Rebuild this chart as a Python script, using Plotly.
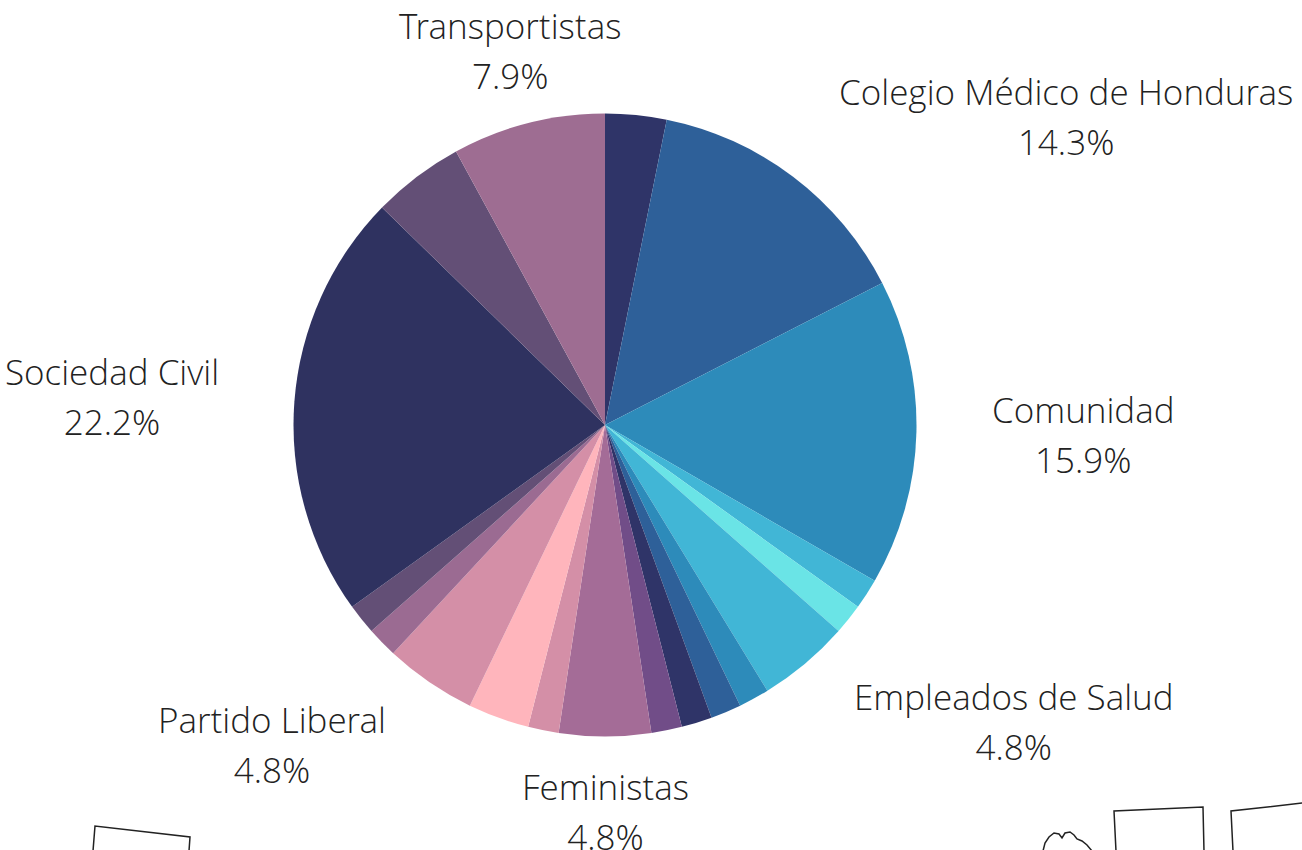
import math
import plotly.graph_objects as go

# ---- data (counts out of 63) ----
categories = [
    "Grupo A", "Colegio Médico de Honduras", "Comunidad", "Grupo B", "Grupo C",
    "Empleados de Salud", "Grupo D", "Grupo E", "Grupo F", "Grupo G",
    "Feministas", "Grupo H", "Grupo I", "Partido Liberal", "Grupo J",
    "Grupo K", "Sociedad Civil", "Grupo L", "Transportistas",
]
values = [2, 9, 10, 1, 1, 3, 1, 1, 1, 1, 3, 1, 2, 3, 1, 1, 14, 3, 5]
show_label = [False, True, True, False, False, True, False, False, False, False,
              True, False, False, True, False, False, True, False, True]
colors = [
    "#2F3468", "#2E6099", "#2D8BBA", "#41B6D6", "#6AE4E6",
    "#41B6D6", "#2D8BBA", "#2E6099", "#2F3468", "#714D88",
    "#A46C97", "#D48FA7", "#FFB5BC", "#D48FA7", "#9B6B92",
    "#634F76", "#2F3260", "#634F76", "#9E6D92",
]

W, H = 1302, 850
cx, cy, r = 605, 425, 311.5      # pie centre / radius in pixels
label_gap = 75                   # distance of labels from pie edge
glyph_size = 35                  # label font size
line_gap = 50                    # spacing between the two label lines
FONT = dict(family="Open Sans Light, Open Sans", size=line_gap / 1.3,
            color="#222222", weight=300)

total = sum(values)

fig = go.Figure(go.Pie(
    labels=categories,
    values=values,
    textinfo="none",
    sort=False,
    direction="clockwise",
    rotation=0,
    marker=dict(colors=colors, line=dict(width=0)),
    showlegend=False,
    domain=dict(x=[(cx - r) / W, (cx + r) / W], y=[(H - cy - r) / H, (H - cy + r) / H]),
))

# outside labels placed along each slice's mid-angle
annotations = []
cum = 0
for c, v, s in zip(categories, values, show_label):
    mid = (cum + v / 2) / total * 2 * math.pi
    cum += v
    if not s:
        continue
    R = r + label_gap
    ax = cx + R * math.sin(mid)
    ay = cy - R * math.cos(mid)
    sn = math.sin(mid)
    xanchor = "center" if abs(sn) < 0.3 else ("left" if sn > 0 else "right")
    sp = f'<span style="font-size:{glyph_size}px">'
    txt = f"{sp}{c}</span><br>{sp}{v / total * 100:.1f}%</span>"
    annotations.append(dict(
        x=ax / W, y=1 - ay / H, xref="paper", yref="paper",
        text=txt, showarrow=False, xanchor=xanchor, yanchor="middle",
        align="center", font=FONT, borderpad=0,
    ))

# decorative hand-drawn outlines at the bottom edge
def px_path(points):
    return "M " + " L ".join(f"{x / W:.5f},{1 - y / H:.5f}" for x, y in points)

deco = [
    [(93, 851), (95, 826), (190, 837), (189, 851)],
    [(1116, 851), (1114, 811), (1203, 807), (1204, 851)],
    [(1233, 851), (1231, 811), (1303, 803)],
]
shapes = [dict(type="path", xref="paper", yref="paper", path=px_path(p),
               line=dict(color="#222222", width=1.5)) for p in deco]
cloud = [(1043, 851), (1045, 843), (1049, 837), (1054, 833), (1059, 834),
         (1062, 838), (1065, 833), (1070, 832), (1074, 835), (1077, 839),
         (1082, 841), (1087, 845), (1092, 851)]
shapes.append(dict(type="path", xref="paper", yref="paper", path=px_path(cloud),
                   line=dict(color="#222222", width=1.5)))

fig.update_layout(
    width=W, height=H,
    margin=dict(l=0, r=0, t=0, b=0),
    paper_bgcolor="white",
    plot_bgcolor="white",
    shapes=shapes,
    annotations=annotations,
)

fig.write_html("out.html")
